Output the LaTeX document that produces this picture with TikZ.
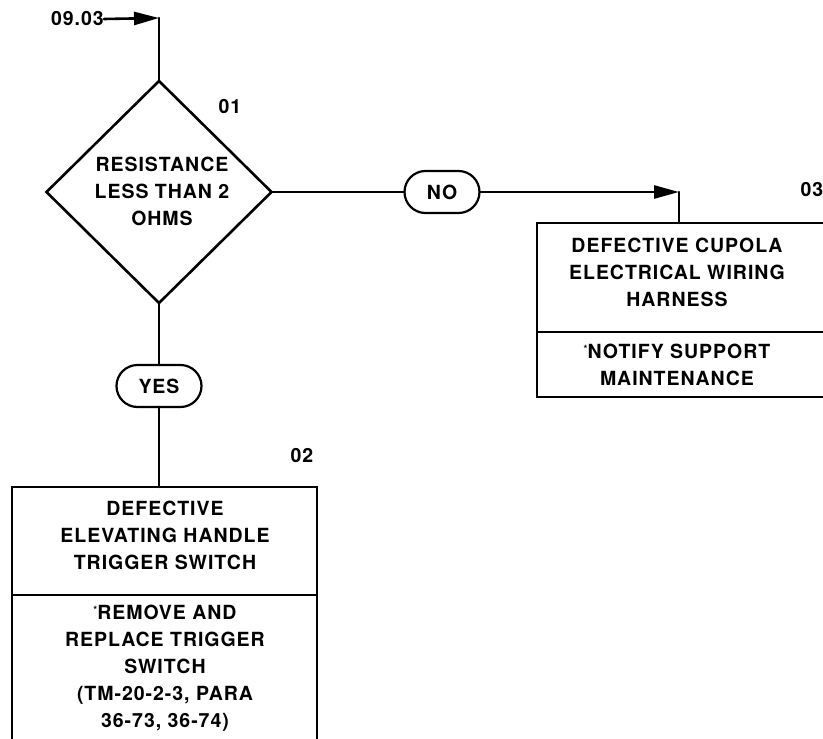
\documentclass[tikz,border=0pt]{standalone}
\usepackage{fontspec}
\setmainfont{TeX Gyre Heros}[LetterSpace=5]
\usetikzlibrary{shapes.geometric,shapes.misc,arrows.meta}
\tikzset{
  ln/.style={line width=2.6pt, line cap=round},
  arr/.style={ln, -{Triangle[length=25pt,width=13pt]}},
  txt/.style={font=\bfseries\fontsize{19.5}{27}\selectfont, align=center, inner sep=0pt},
  dec/.style={diamond, draw, line width=2.6pt, minimum width=225pt, minimum height=222pt, inner sep=0pt, outer sep=0pt},
  pill/.style={rounded rectangle, draw, line width=2.2pt, minimum height=42pt, inner sep=0pt, outer sep=0pt, font=\bfseries\fontsize{19.5}{27}\selectfont},
  boxpart/.style={rectangle, draw, line width=2.4pt, inner sep=0pt, outer sep=0pt}
}
\begin{document}
\begin{tikzpicture}[x=1pt,y=-1pt]
\useasboundingbox (0,0) rectangle (823,739);
\clip (0,0) rectangle (823,739);
% entry
\node[txt, anchor=east] (t0) at (104,19) {09.03};
\coordinate (c0) at (159,18);
\node[dec] (d1) at (159,192) {};
\node[txt] (d1t) at (162,191.5) {RESISTANCE\\LESS THAN 2\\OHMS};
\node[txt] (n01) at (230,107) {01};
% NO branch
\node[pill, minimum width=75pt] (no) at (442,192) {NO};
\coordinate (c3) at (679,192);
\node[boxpart, minimum width=305pt, minimum height=109pt, anchor=north west] (b3a) at (537,223) {};
\node[boxpart, minimum width=305pt, minimum height=65pt, anchor=north west] (b3b) at (b3a.south west) {};
\node[txt] (b3at) at (677,272.5) {DEFECTIVE CUPOLA\\ELECTRICAL WIRING\\HARNESS};
\node[txt] (b3bt) at (677,365) {{\fontsize{10}{10}\selectfont\raisebox{6pt}{*}}NOTIFY SUPPORT\\MAINTENANCE};
\node[txt] (n03) at (812,190) {03};
% YES branch
\node[pill, minimum width=85pt] (yes) at (159,386) {YES};
\node[boxpart, minimum width=305pt, minimum height=108pt, anchor=north west] (b2a) at (12,487) {};
\node[boxpart, minimum width=305pt, minimum height=150pt, anchor=north west] (b2b) at (b2a.south west) {};
\node[txt] (b2at) at (165,535.5) {DEFECTIVE\\ELEVATING HANDLE\\TRIGGER SWITCH};
\node[txt] (b2bt) at (165,668.5) {{\fontsize{10}{10}\selectfont\raisebox{6pt}{*}}REMOVE AND\\REPLACE TRIGGER\\SWITCH\\(TM-20-2-3, PARA\\36-73, 36-74)};
\node[txt] (n02) at (302,456) {02};
% connectors
\draw[arr] (t0.east) -- (c0);
\draw[ln] (c0) -- (d1.north);
\draw[ln] (d1.east) -- (no.west);
\draw[arr] (no.east) -- (c3);
\draw[ln] (c3) -- (c3 |- b3a.north);
\draw[ln] (d1.south) -- (yes.north);
\draw[ln] (yes.south) -- (yes.south |- b2a.north);
\end{tikzpicture}
\end{document}
